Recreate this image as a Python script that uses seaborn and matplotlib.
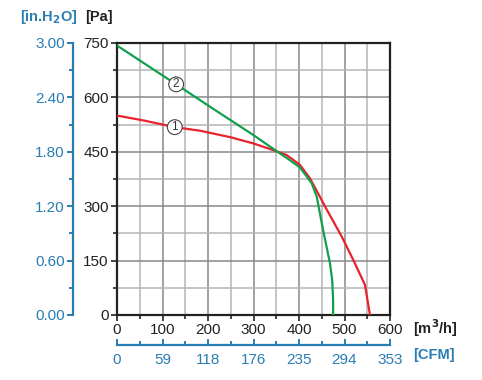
import matplotlib
matplotlib.use("Agg")
import matplotlib.pyplot as plt
import seaborn as sns
import pandas as pd
import numpy as np

sns.set_style("white")
plt.rcParams['font.family'] = ['Liberation Sans', 'DejaVu Sans']

# Data
red_flow = [0, 60, 127, 183, 250, 300, 347, 373, 402, 424, 460, 494, 520, 545, 556]
red_pa = [550, 536, 518, 508, 490, 473, 453, 441, 414, 377, 293, 216, 150, 83, 0]
green_flow = [0, 130, 212, 300, 347, 373, 402, 428, 439, 453, 468, 473, 475, 475]
green_pa = [743, 636, 568, 496, 455, 433, 407, 363, 326, 234, 143, 96, 40, 0]
flow_ticks = [0, 100, 200, 300, 400, 500, 600]
cfm_labels = ["0", "59", "118", "176", "235", "294", "353"]
pa_ticks = [0, 150, 300, 450, 600, 750]
inh2o_labels = ["0.00", "0.60", "1.20", "1.80", "2.40", "3.00"]

BLUE = "#2a7db2"
RED = "#e8232b"
GREEN = "#12a04c"

df = pd.concat([
    pd.DataFrame({"flow": red_flow, "pa": red_pa, "curve": "1"}),
    pd.DataFrame({"flow": green_flow, "pa": green_pa, "curve": "2"}),
])

fig = plt.figure(figsize=(4.82, 3.80), dpi=100)
ax = fig.add_axes([117/482, 1-315/380, 273/482, 272/380])

# grid
for v in np.arange(50, 600, 50):
    ax.axvline(v, color="#888888" if v % 100 == 0 else "#b5b5b5", lw=1.1, zorder=0)
for h in np.arange(75, 750, 75):
    ax.axhline(h, color="#888888" if h % 150 == 0 else "#b5b5b5", lw=1.1, zorder=0)

sns.lineplot(data=df, x="flow", y="pa", hue="curve", palette={"1": RED, "2": GREEN},
             sort=False, estimator=None, lw=1.6, legend=False, ax=ax, zorder=3)

ax.set_xlim(0, 600)
ax.set_ylim(0, 750)
ax.set_xlabel("")
ax.set_ylabel("")
ax.set_xticks(flow_ticks)
ax.set_xticks(np.arange(50, 600, 100), minor=True)
ax.set_yticks(pa_ticks)
ax.set_yticks(np.arange(75, 750, 150), minor=True)
ax.tick_params(axis="both", which="major", direction="out", length=4, width=1.2,
               labelsize=11, colors="#222222", pad=2, left=True, bottom=True)
ax.tick_params(axis="both", which="minor", direction="out", length=3, width=1.2,
               left=True, bottom=True)
for s in ax.spines.values():
    s.set_color("#222222")
    s.set_linewidth(1.6)

# circled labels
for x, y, t in [(127, 518, "1"), (130, 636, "2")]:
    ax.text(x, y, t, ha="center", va="center", fontsize=8.5, color="#333333", zorder=5,
            bbox=dict(boxstyle="circle,pad=0.12", fc="white", ec="#444444", lw=0.8))

# secondary left axis (in.H2O)
sec_y = ax.secondary_yaxis("left")
sec_y.spines["left"].set_position(("outward", 31.5))
sec_y.spines["left"].set_color(BLUE)
sec_y.spines["left"].set_linewidth(1.6)
sec_y.set_yticks(pa_ticks, labels=inh2o_labels)
sec_y.set_yticks(np.arange(75, 750, 150), minor=True)
sec_y.tick_params(axis="y", which="major", direction="out", length=4, width=1.4,
                  colors=BLUE, labelsize=11, pad=2)
sec_y.tick_params(axis="y", which="minor", direction="out", length=3, width=1.4, colors=BLUE)

# secondary bottom axis (CFM)
sec_x = ax.secondary_xaxis("bottom")
sec_x.spines["bottom"].set_position(("outward", 21.5))
sec_x.spines["bottom"].set_color(BLUE)
sec_x.spines["bottom"].set_linewidth(1.6)
sec_x.set_xticks(flow_ticks, labels=cfm_labels)
sec_x.set_xticks(np.arange(50, 600, 100), minor=True)
sec_x.tick_params(axis="x", which="major", direction="in", length=4, width=1.4,
                  colors=BLUE, labelsize=11, pad=6)
sec_x.tick_params(axis="x", which="minor", direction="in", length=3, width=1.4, colors=BLUE)

# unit labels
fig.text(20/482, 1-17/380, "[in.H$_\\mathbf{2}$O]", color=BLUE, fontsize=10.5,
         fontweight="bold", ha="left", va="center")
fig.text(85/482, 1-17/380, "[Pa]", color="#222222", fontsize=10.5,
         fontweight="bold", ha="left", va="center")
fig.text(413/482, 1-328/380, "[m$^\\mathbf{3}$/h]", color="#222222", fontsize=10.5,
         fontweight="bold", ha="left", va="center")
fig.text(413/482, 1-355/380, "[CFM]", color=BLUE, fontsize=10.5,
         fontweight="bold", ha="left", va="center")

fig.savefig("out.png", dpi=100)
